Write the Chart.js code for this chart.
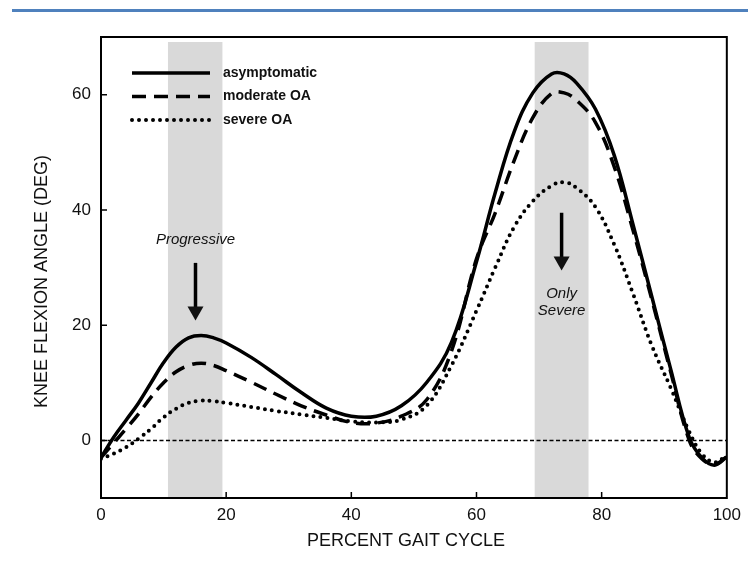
<!DOCTYPE html>
<html>
<head>
<meta charset="utf-8">
<script src="https://cdn.jsdelivr.net/npm/chart.js@4.4.1/dist/chart.umd.min.js"></script>
<style>
  body { margin: 0; background: #fff; }
  .wrap { position: relative; width: 748px; height: 563px; }
  .rule { position: absolute; left: 12px; right: 0; top: 9px; height: 3px; background: #4f81bd; }
</style>
</head>
<body>
<div class="wrap">
  <div class="rule"></div>
  <canvas id="chart"></canvas>
</div>
<script>
const gaitPct      = [0, 2, 4, 6, 8, 10, 12, 14, 16, 18, 20, 24, 28, 32, 36, 40, 44, 48, 52, 56, 60, 63, 66, 69, 72, 74, 76, 79, 82, 85, 88, 91, 94, 96, 98, 100]
const asymptomatic = [-3, 0.5, 3.5, 6.5, 10, 13.5, 16.2, 17.8, 18.2, 17.8, 16.9, 14.4, 11.4, 8.3, 5.6, 4.2, 4.2, 6, 10, 17, 31, 43, 53.5, 60.3, 63.6, 63.6, 62, 57.5, 49.5, 37.5, 25, 12.5, 0.5, -3, -4.3, -2.9]
const moderateOA   = [-3, -0.5, 2, 4.6, 7.5, 10, 11.9, 13, 13.4, 13, 12.1, 10.1, 8, 6, 4.4, 3.1, 3, 4.2, 7, 15.5, 31.5, 39.5, 48.5, 56, 60.2, 60.3, 59, 55.2, 47.5, 36.5, 24.5, 12, 0, -3.2, -4.2, -2.8]
const severeOA     = [-3.2, -2.3, -1.2, 0.3, 2, 4, 5.5, 6.5, 6.9, 6.8, 6.5, 5.8, 5.1, 4.5, 3.9, 3.3, 3.1, 3.6, 6, 13, 22.5, 30, 37, 41.5, 44.2, 44.8, 43.8, 40.5, 34, 25.5, 16.5, 9.2, 1.5, -2.3, -3.8, -2.6]

const xTicks = [0, 20, 40, 60, 80, 100]
const yTicks = [0, 20, 40, 60]
const shadedBands = [[10.7, 19.4], [69.3, 77.9]]

const seriesLabels = ["asymptomatic", "moderate OA", "severe OA"]
const seriesDash = [[], [14, 8], [0, 7]]
const seriesWidth = [3.5, 3.5, 4]

// arrow callouts, in data units
const callouts = [
  { x: 15.1, from: 30.8, to: 20.8, textY: [34.8], text: ["Progressive"] },
  { x: 73.6, from: 39.5, to: 29.5, textY: [25.5, 22.5], text: ["Only", "Severe"] },
]

const font = "'Liberation Sans', Arial, sans-serif"

const toPoints = (values) => values.map((v, i) => ({ x: gaitPct[i], y: v }))

const figure = {
  id: "figure",
  beforeDatasetsDraw(chart) {
    const { ctx, chartArea: a, scales: { x, y } } = chart
    ctx.save()
    ctx.fillStyle = "#d9d9d9"
    shadedBands.forEach(([from, to]) => {
      const l = x.getPixelForValue(from)
      const r = x.getPixelForValue(to)
      ctx.fillRect(l, a.top + 5, r - l, a.bottom - a.top - 5)
    })
    const y0 = y.getPixelForValue(0)
    ctx.strokeStyle = "#000"
    ctx.lineWidth = 1.5
    ctx.setLineDash([4, 2.5])
    ctx.beginPath()
    ctx.moveTo(a.left, y0)
    ctx.lineTo(a.right, y0)
    ctx.stroke()
    ctx.restore()
  },
  afterDatasetsDraw(chart) {
    const { ctx, chartArea: a, scales: { x, y } } = chart
    ctx.save()
    ctx.strokeStyle = "#000"
    ctx.lineWidth = 2
    ctx.strokeRect(a.left, a.top, a.right - a.left, a.bottom - a.top)

    ctx.lineWidth = 1.5
    ctx.beginPath()
    xTicks.slice(1, -1).forEach(v => {
      const px = x.getPixelForValue(v)
      ctx.moveTo(px, a.bottom)
      ctx.lineTo(px, a.bottom - 6)
    })
    yTicks.forEach(v => {
      const py = y.getPixelForValue(v)
      ctx.moveTo(a.left, py)
      ctx.lineTo(a.left + 6, py)
    })
    ctx.stroke()

    // legend
    ctx.font = `bold 14px ${font}`
    ctx.fillStyle = "#111"
    ctx.textBaseline = "middle"
    seriesLabels.forEach((label, i) => {
      const ly = a.top + 36 + i * 23.5
      ctx.lineWidth = seriesWidth[i]
      ctx.lineCap = i === 2 ? "round" : "butt"
      ctx.setLineDash(seriesDash[i])
      ctx.beginPath()
      ctx.moveTo(a.left + 31, ly)
      ctx.lineTo(a.left + 109, ly)
      ctx.stroke()
      ctx.setLineDash([])
      ctx.fillText(label, a.left + 122, ly)
    })

    // callouts
    ctx.lineCap = "butt"
    callouts.forEach(c => {
      const px = x.getPixelForValue(c.x)
      const top = y.getPixelForValue(c.from)
      const tip = y.getPixelForValue(c.to)
      ctx.lineWidth = 3.5
      ctx.beginPath()
      ctx.moveTo(px, top)
      ctx.lineTo(px, tip - 12)
      ctx.stroke()
      ctx.beginPath()
      ctx.moveTo(px - 8, tip - 14)
      ctx.lineTo(px + 8, tip - 14)
      ctx.lineTo(px, tip)
      ctx.closePath()
      ctx.fill()
      ctx.font = `italic 15px ${font}`
      ctx.textAlign = "center"
      c.text.forEach((t, i) => ctx.fillText(t, px, y.getPixelForValue(c.textY[i])))
    })

    // axis titles
    ctx.font = `18px ${font}`
    ctx.textAlign = "center"
    ctx.fillText("PERCENT GAIT CYCLE", (a.left + a.right) / 2 - 8, a.bottom + 43)
    ctx.translate(a.left - 59, (a.top + a.bottom) / 2 + 14)
    ctx.rotate(-Math.PI / 2)
    ctx.fillText("KNEE FLEXION ANGLE (DEG)", 0, 0)
    ctx.restore()
  },
}

new Chart(document.getElementById("chart"), {
  type: "line",
  data: {
    datasets: [asymptomatic, moderateOA, severeOA].map((values, i) => ({
      label: seriesLabels[i],
      data: toPoints(values),
      borderColor: "#000",
      borderWidth: seriesWidth[i],
      borderDash: seriesDash[i],
      borderCapStyle: i === 2 ? "round" : "butt",
      pointRadius: 0,
      tension: 0.4,
      fill: false,
    })),
  },
  options: {
    responsive: true,
    maintainAspectRatio: false,
    animation: false,
    layout: { padding: { top: 37, right: 18, left: 0, bottom: 0 } },
    plugins: {
      legend: { display: false },
      tooltip: { enabled: false },
    },
    scales: {
      x: {
        type: "linear",
        min: 0,
        max: 100,
        afterFit: (s) => { s.height = 65 },
        afterBuildTicks: (s) => { s.ticks = xTicks.map(v => ({ value: v })) },
        grid: { display: false, drawTicks: false },
        border: { display: false },
        ticks: { color: "#111", padding: 7, maxRotation: 0, font: { family: font, size: 17 } },
      },
      y: {
        min: -10,
        max: 70,
        afterFit: (s) => { s.width = 101 },
        afterBuildTicks: (s) => { s.ticks = yTicks.map(v => ({ value: v })) },
        grid: { display: false, drawTicks: false },
        border: { display: false },
        ticks: { color: "#111", padding: 10, font: { family: font, size: 17 } },
      },
    },
  },
  plugins: [figure],
})
</script>
</body>
</html>
